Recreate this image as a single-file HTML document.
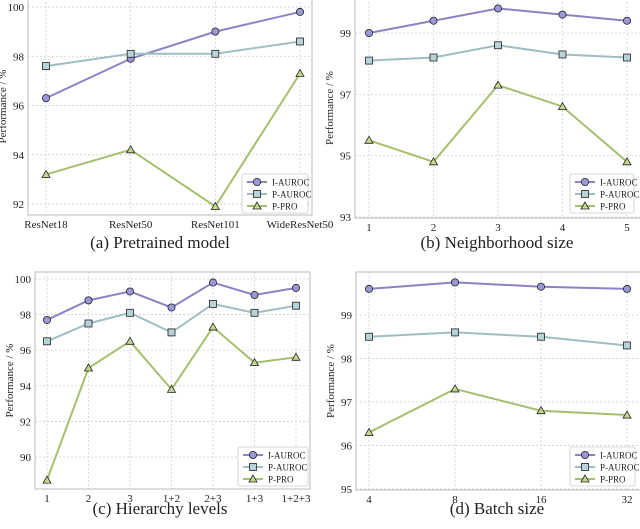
<!DOCTYPE html>
<html><head><meta charset="utf-8"><style>
body{margin:0;background:#fff;width:640px;height:524px;overflow:hidden}
svg text{font-family:"Liberation Serif",serif;fill:#222}
</style></head><body>
<svg id="c" width="640" height="524" xmlns="http://www.w3.org/2000/svg"></svg>
<script>
const catsA=["ResNet18","ResNet50","ResNet101","WideResNet50"];
const iA=[96.3,97.9,99.0,99.8];
const pA=[97.6,98.1,98.1,98.6];
const proA=[93.2,94.2,91.9,97.3];
const ticksA=[92,94,96,98,100];
const catsB=["1","2","3","4","5"];
const iB=[99.0,99.4,99.8,99.6,99.4];
const pB=[98.1,98.2,98.6,98.3,98.2];
const proB=[95.5,94.8,97.3,96.6,94.8];
const ticksB=[93,95,97,99];
const catsC=["1","2","3","1+2","2+3","1+3","1+2+3"];
const iC=[97.7,98.8,99.3,98.4,99.8,99.1,99.5];
const pC=[96.5,97.5,98.1,97.0,98.6,98.1,98.5];
const proC=[88.7,95.0,96.5,93.8,97.3,95.3,95.6];
const ticksC=[90,92,94,96,98,100];
const catsD=["4","8","16","32"];
const iD=[99.6,99.75,99.65,99.6];
const pD=[98.5,98.6,98.5,98.3];
const proD=[96.3,97.3,96.8,96.7];
const ticksD=[95,96,97,98,99];

const NS="http://www.w3.org/2000/svg";
const svg=document.getElementById('c');
function mk(t,a,p){const e=document.createElementNS(NS,t);for(const k in a)e.setAttribute(k,a[k]);(p||svg).appendChild(e);return e;}
const COL=[["#8884c6","#9b98d8"],["#9dbfc4","#b5d3d8"],["#a6bf6e","#c4d98e"]];
const NAMES=["I-AUROC","P-AUROC","P-PRO"];
function marker(g,k,x,y){
  let e;
  if(k===0)e=mk('circle',{cx:x,cy:y,r:3.6,fill:COL[0][1],stroke:"#222","stroke-width":0.8},g);
  else if(k===1)e=mk('rect',{x:x-3.5,y:y-3.5,width:7,height:7,fill:COL[1][1],stroke:"#222","stroke-width":0.8},g);
  else e=mk('polygon',{points:`${x},${y-4} ${x-4},${y+3} ${x+4},${y+3}`,fill:COL[2][1],stroke:"#222","stroke-width":0.8},g);
  return e;
}
function panel(o){
  const g=mk('g',{});
  
  
  const sy=v=>o.y0+(v-o.v0)*(o.y1-o.y0)/(o.v1-o.v0);
  const sx=i=>o.xs+i*(o.xe-o.xs)/(o.cats.length-1);
  // grid
  o.cats.forEach((c,i)=>{
    mk('line',{x1:sx(i),x2:sx(i),y1:o.top,y2:o.bot,stroke:"#ccc","stroke-dasharray":"2,2","stroke-width":0.7},g);
    const t=mk('text',{x:sx(i),y:o.bot+13,"text-anchor":"middle","font-size":11},g);t.textContent=c;
    
  });
  o.ticks.forEach(v=>{
    mk('line',{x1:o.left,x2:o.right,y1:sy(v),y2:sy(v),stroke:"#ccc","stroke-dasharray":"2,2","stroke-width":0.7},g);
    const t=mk('text',{x:o.left-4,y:sy(v)+4,"text-anchor":"end","font-size":11},g);t.textContent=v;
    
  });
  const fr=mk('rect',{x:o.left,y:o.top,width:o.right-o.left,height:o.bot-o.top,fill:"none",stroke:"#bbb","stroke-width":1},g);
  
  const yl=mk('text',{transform:`translate(${o.left-22},${(o.top+o.bot)/2}) rotate(-90)`,"text-anchor":"middle","font-size":11},g);
  yl.textContent="Performance / %";
  
  o.series.forEach((s,k)=>{
    const pl=mk('polyline',{points:s.map((v,i)=>sx(i)+","+sy(v)).join(" "),fill:"none",stroke:COL[k][0],"stroke-width":2},g);
    
    s.forEach((v,i)=>{const m=marker(g,k,sx(i),sy(v));
      });
  });
  // legend
  const lg=mk('g',{},g);
  
  mk('rect',{x:o.lx,y:o.ly,width:o.lw,height:39,fill:"#fff",stroke:"#ccc","stroke-width":0.8,rx:2},lg);
  NAMES.forEach((n,k)=>{
    const yy=o.ly+8+k*12;
    mk('line',{x1:o.lx+5,x2:o.lx+25,y1:yy,y2:yy,stroke:COL[k][0],"stroke-width":2},lg);
    marker(lg,k,o.lx+15,yy);
    const t=mk('text',{x:o.lx+30,y:yy+3.5,"font-size":9},lg);t.textContent=n;
    
  });
  const tt=mk('text',{x:o.tx,y:o.ty,"text-anchor":"middle","font-size":17},g);tt.textContent=o.title;
  
}
panel({name:"panel-a",cats:catsA,series:[iA,pA,proA],ticks:ticksA,xs:46,xe:300,y0:7,y1:204,v0:100,v1:92,
  left:28,right:312,top:-2,bot:215,lx:242,ly:174,lw:66,title:"(a) Pretrained model",tx:160,ty:248});
panel({name:"panel-b",cats:catsB,series:[iB,pB,proB],ticks:ticksB,xs:369,xe:627,y0:33,y1:217,v0:99,v1:93,
  left:355,right:641,top:-2,bot:218,lx:570,ly:174,lw:64,title:"(b) Neighborhood size",tx:497,ty:248});
panel({name:"panel-c",cats:catsC,series:[iC,pC,proC],ticks:ticksC,xs:47,xe:296,y0:279,y1:457,v0:100,v1:90,
  left:35,right:310,top:272,bot:489,lx:238,ly:447,lw:70,title:"(c) Hierarchy levels",tx:160,ty:514});
panel({name:"panel-d",cats:catsD,series:[iD,pD,proD],ticks:ticksD,xs:369,xe:627,y0:315,y1:489,v0:99,v1:95,
  left:356,right:641,top:272,bot:490,lx:570,ly:447,lw:65,title:"(d) Batch size",tx:497,ty:514});
</script>
</body></html>
